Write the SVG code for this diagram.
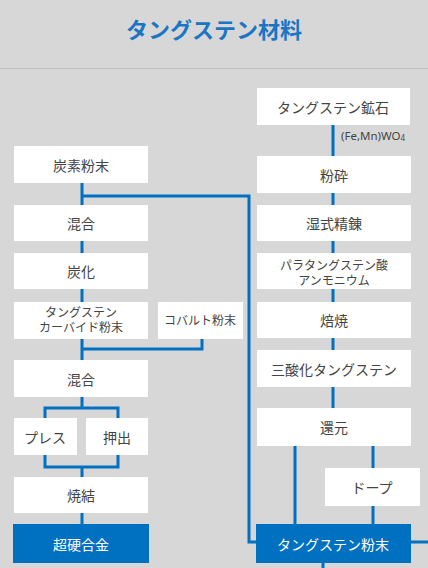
<svg xmlns="http://www.w3.org/2000/svg" width="428" height="568" viewBox="0 0 428 568">
<style>
.b{fill:#ffffff}
.k{fill:#0071c1}
.t{font-family:"Noto Sans CJK JP","Noto Sans",sans-serif;font-size:14px;fill:#444;text-anchor:middle;dominant-baseline:central}
.s{font-size:12px;font-family:"Liberation Sans","Noto Sans CJK JP",sans-serif}
.w{fill:#ffffff}
.c{stroke:#0071c1;stroke-width:3;fill:none}
</style>
<rect width="428" height="568" fill="#d7d7d7"/>
<text x="214" y="28" font-family="'Noto Sans CJK JP','Noto Sans',sans-serif" font-size="22" font-weight="bold" fill="#1a76c4" text-anchor="middle" dominant-baseline="central">タングステン材料</text>
<line x1="0" y1="68.5" x2="428" y2="68.5" stroke="#c2c2c2" stroke-width="1"/>
<g id="connectors" class="c">
<path d="M333 125V156M333 193V205M333 241V253M333 289V302M333 338V350M333 387V408"/>
<path d="M295 446V524M373 446V468M373 506V524M411 542H428M323 563V568"/>
<path d="M82 183V205M82 196H249V542H256"/>
<path d="M82 241V253M82 289V302M82 339V349H202V339M82 349V360"/>
<path d="M82 397V408M45 418V408H118V418M45 455V467H118V455M82 467V477M82 513V524"/>
</g>
<text x="341" y="135" font-family="'Noto Sans','Noto Sans CJK JP',sans-serif" font-size="11.5" fill="#444" dominant-baseline="central">(Fe,Mn)WO<tspan font-size="8" dy="2">4</tspan></text>
<g id="ore"><rect class="b" x="257" y="88" width="153" height="37"/><text class="t" x="333" y="106.5">タングステン鉱石</text></g>
<g id="crush"><rect class="b" x="257" y="156" width="154" height="37"/><text class="t" x="334" y="174.5">粉砕</text></g>
<g id="wet"><rect class="b" x="257" y="205" width="154" height="36"/><text class="t" x="334" y="223">湿式精錬</text></g>
<g id="apt"><rect class="b" x="257" y="253" width="154" height="36"/><text class="t s" x="334" y="266">パラタングステン酸</text><text class="t s" x="334" y="281">アンモニウム</text></g>
<g id="roast"><rect class="b" x="257" y="302" width="154" height="36"/><text class="t" x="334" y="320">焙焼</text></g>
<g id="wo3"><rect class="b" x="257" y="350" width="154" height="37"/><text class="t" x="334" y="368.5">三酸化タングステン</text></g>
<g id="reduce"><rect class="b" x="257" y="408" width="154" height="38"/><text class="t" x="334" y="427">還元</text></g>
<g id="dope"><rect class="b" x="325" y="468" width="95" height="38"/><text class="t" x="372" y="487">ドープ</text></g>
<g id="wpowder"><rect class="k" x="256" y="524" width="155" height="39"/><text class="t w" x="333" y="543.5">タングステン粉末</text></g>
<g id="carbon"><rect class="b" x="14" y="146" width="134" height="37"/><text class="t" x="81" y="164.5">炭素粉末</text></g>
<g id="mix1"><rect class="b" x="14" y="205" width="134" height="36"/><text class="t" x="81" y="223">混合</text></g>
<g id="carb"><rect class="b" x="14" y="253" width="134" height="36"/><text class="t" x="81" y="271">炭化</text></g>
<g id="wc"><rect class="b" x="14" y="302" width="134" height="37"/><text class="t s" x="81" y="313">タングステン</text><text class="t s" x="81" y="328">カーバイド粉末</text></g>
<g id="cobalt"><rect class="b" x="158" y="302" width="85" height="37"/><text class="t s" x="200" y="320.5">コバルト粉末</text></g>
<g id="mix2"><rect class="b" x="14" y="360" width="134" height="37"/><text class="t" x="81" y="378.5">混合</text></g>
<g id="press"><rect class="b" x="14" y="418" width="63" height="37"/><text class="t" x="45" y="436.5">プレス</text></g>
<g id="extrude"><rect class="b" x="86" y="418" width="62" height="37"/><text class="t" x="117" y="436.5">押出</text></g>
<g id="sinter"><rect class="b" x="14" y="477" width="134" height="36"/><text class="t" x="81" y="495">焼結</text></g>
<g id="carbide"><rect class="k" x="13" y="524" width="136" height="39"/><text class="t w" x="81" y="543.5">超硬合金</text></g>
</svg>
